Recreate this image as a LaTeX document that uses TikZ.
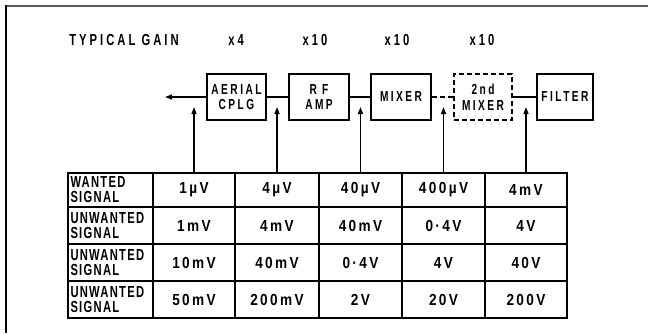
\documentclass[tikz,border=0pt]{standalone}
\usepackage{fontspec}
\setmainfont{Liberation Sans}
\newfontfamily\boxfont[FakeStretch=0.7,LetterSpace=17]{Liberation Sans}
\newfontfamily\tabfont[FakeStretch=0.7,LetterSpace=8]{Liberation Sans}
\newfontfamily\valfont[FakeStretch=0.85,LetterSpace=15]{Liberation Sans}
\newfontfamily\gainfont[FakeStretch=0.7,LetterSpace=19]{Liberation Sans}
\usetikzlibrary{arrows.meta}
\begin{document}
\begin{tikzpicture}[x=1pt,y=-1pt,
  blk/.style={draw, line width=1.6pt, minimum width=#1, minimum height=46pt, inner sep=0pt,
    align=center, font=\boxfont\bfseries\fontsize{14.5}{15.5}\selectfont},
  dblk/.style={blk=#1, dash pattern=on 5pt off 3pt},
  cell/.style={draw, line width=1.5pt, inner sep=0pt, outer sep=0pt,
    font=\valfont\bfseries\fontsize{16}{15}\selectfont},
  lab/.style={cell, text width=80pt, align=left, font=\tabfont\bfseries\fontsize{16}{15}\selectfont},
  gain/.style={font=\gainfont\bfseries\fontsize{16}{16}\selectfont, inner sep=0pt},
  wire/.style={line width=1.5pt},
  arr/.style={wire, -{Triangle[length=7pt,width=5pt]}}
]
\useasboundingbox (0,0) rectangle (648,333);
% frame
\draw[line width=1.8pt, black!65] (5,6) -- (648,6);
\draw[line width=1.8pt] (6,5) -- (6,333);

% gains
\node[gain] (tg) at (124,40) {TYPICAL GAIN};
\node[gain] (g1) at (236,40) {x4};
\node[gain] (g2) at (315,40) {x10};
\node[gain] (g3) at (397,40) {x10};
\node[gain] (g4) at (482,40) {x10};

% blocks
\node[blk=59pt] (aerial) at (236.5,97) {AERIAL\\CPLG};
\node[blk=60pt] (rf) at (319,97) {R F\\AMP};
\node[blk=60pt] (mixer) at (401,97) {MIXER};
\node[dblk=58pt] (mixtwo) at (483,97) {2nd\\MIXER};
\node[blk=56pt] (filter) at (565,97) {FILTER};

\coordinate (out) at (165,97);
\draw[arr] (aerial.west) -- (out);
\draw[wire] (aerial.east) -- (rf.west);
\draw[wire] (rf.east) -- (mixer.west);
\draw[wire, dash pattern=on 5pt off 3pt] (mixer.east) -- (mixtwo.west);
\draw[wire] (mixtwo.east) -- (filter.west);

% table
\node[lab, minimum width=85pt, minimum height=34pt] (r1c1) at (110.5,190) {WANTED\\SIGNAL};
\node[cell, minimum width=82pt, minimum height=34pt] (r1c2) at (194,190) {1µV};
\node[cell, minimum width=84pt, minimum height=34pt] (r1c3) at (277,190) {4µV};
\node[cell, minimum width=83pt, minimum height=34pt] (r1c4) at (360.5,190) {40µV};
\node[cell, minimum width=83pt, minimum height=34pt] (r1c5) at (443.5,190) {400µV};
\node[cell, minimum width=82pt, minimum height=34pt] (r1c6) at (526,190) {4mV};

\node[lab, minimum width=85pt, minimum height=37pt] (r2c1) at (110.5,225.5) {UNWANTED\\SIGNAL};
\node[cell, minimum width=82pt, minimum height=37pt] (r2c2) at (194,225.5) {1mV};
\node[cell, minimum width=84pt, minimum height=37pt] (r2c3) at (277,225.5) {4mV};
\node[cell, minimum width=83pt, minimum height=37pt] (r2c4) at (360.5,225.5) {40mV};
\node[cell, minimum width=83pt, minimum height=37pt] (r2c5) at (443.5,225.5) {0·4V};
\node[cell, minimum width=82pt, minimum height=37pt] (r2c6) at (526,225.5) {4V};

\node[lab, minimum width=85pt, minimum height=37pt] (r3c1) at (110.5,262.5) {UNWANTED\\SIGNAL};
\node[cell, minimum width=82pt, minimum height=37pt] (r3c2) at (194,262.5) {10mV};
\node[cell, minimum width=84pt, minimum height=37pt] (r3c3) at (277,262.5) {40mV};
\node[cell, minimum width=83pt, minimum height=37pt] (r3c4) at (360.5,262.5) {0·4V};
\node[cell, minimum width=83pt, minimum height=37pt] (r3c5) at (443.5,262.5) {4V};
\node[cell, minimum width=82pt, minimum height=37pt] (r3c6) at (526,262.5) {40V};

\node[lab, minimum width=85pt, minimum height=37pt] (r4c1) at (110.5,299.5) {UNWANTED\\SIGNAL};
\node[cell, minimum width=82pt, minimum height=37pt] (r4c2) at (194,299.5) {50mV};
\node[cell, minimum width=84pt, minimum height=37pt] (r4c3) at (277,299.5) {200mV};
\node[cell, minimum width=83pt, minimum height=37pt] (r4c4) at (360.5,299.5) {2V};
\node[cell, minimum width=83pt, minimum height=37pt] (r4c5) at (443.5,299.5) {20V};
\node[cell, minimum width=82pt, minimum height=37pt] (r4c6) at (526,299.5) {200V};

% signal arrows
\coordinate (tipy) at (0,107);
\foreach \c in {2,...,6}
  \draw[arr] (r1c\c.north) -- (r1c\c.north |- tipy);
\end{tikzpicture}
\end{document}
